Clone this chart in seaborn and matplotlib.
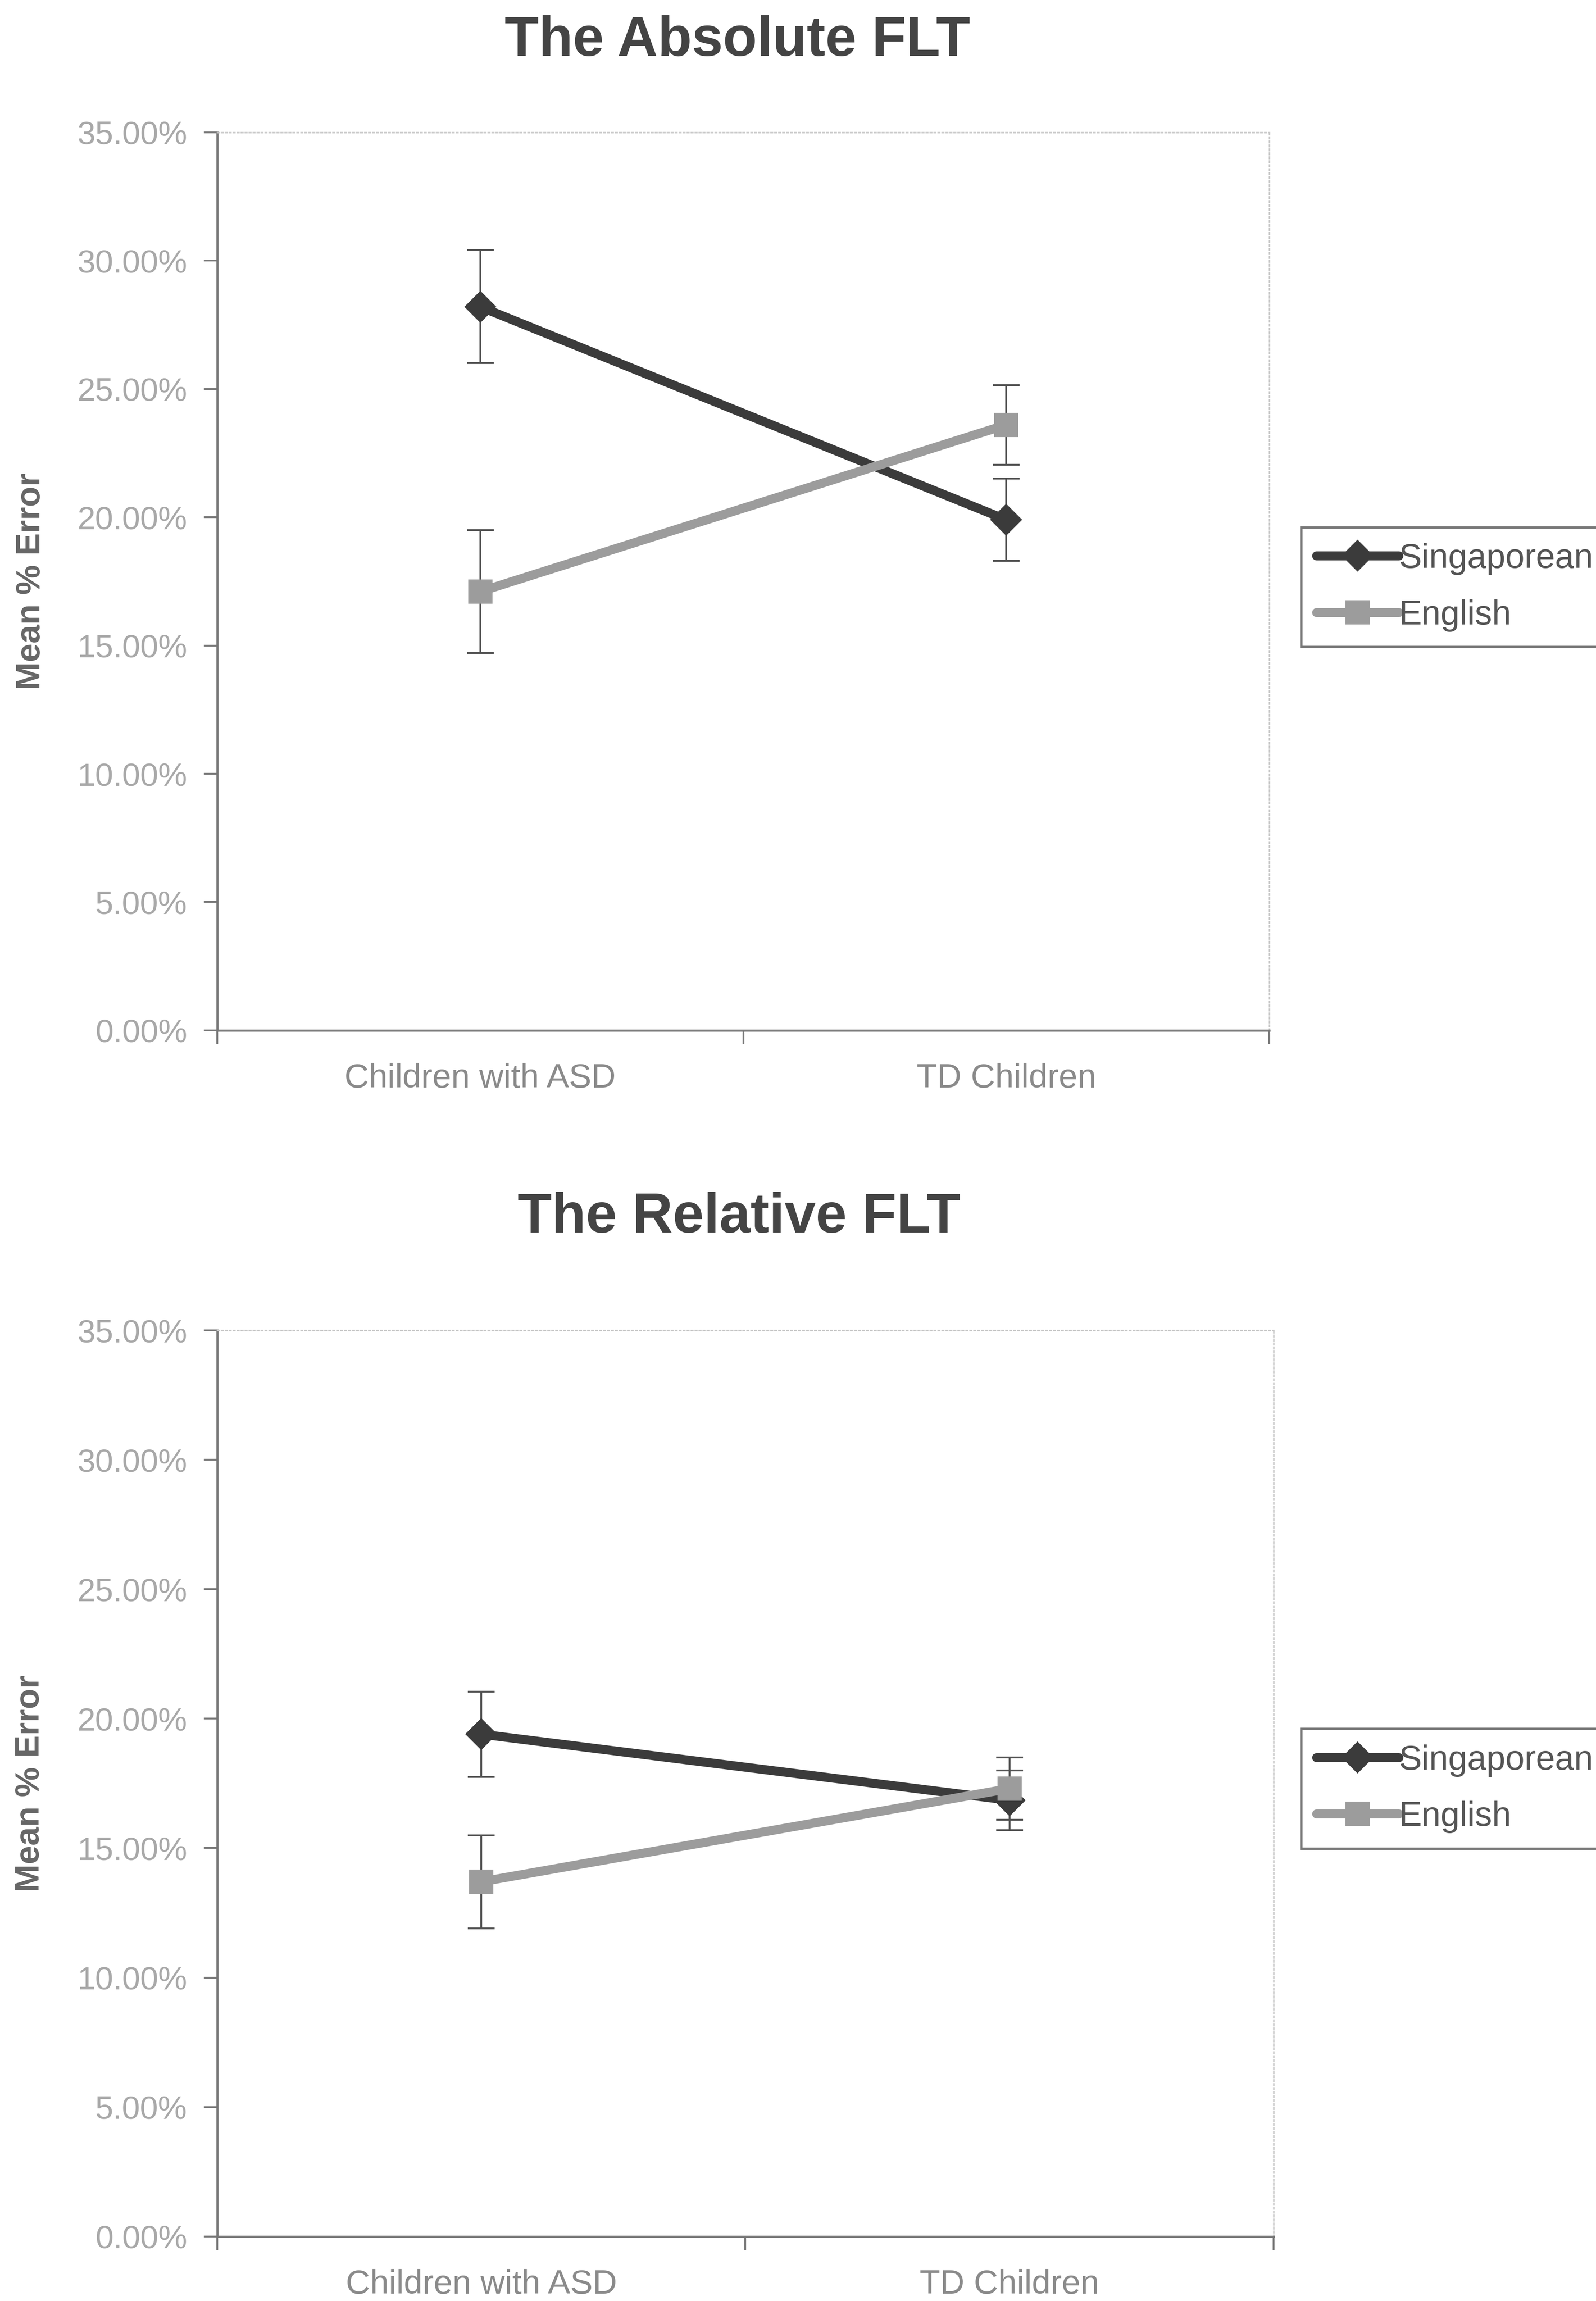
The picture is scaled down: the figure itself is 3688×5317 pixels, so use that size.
import matplotlib
matplotlib.use("Agg")
import matplotlib.pyplot as plt
import seaborn as sns
import pandas as pd
from matplotlib.ticker import PercentFormatter, FixedLocator

groups = ["Children with ASD", "TD Children"]
series_names = ["Singaporean", "English"]

abs_singaporean = [28.2, 19.9]
abs_singaporean_err = [2.2, 1.6]
abs_english = [17.1, 23.6]
abs_english_err = [2.4, 1.55]

rel_singaporean = [19.4, 16.85]
rel_singaporean_err = [1.65, 1.15]
rel_english = [13.7, 17.3]
rel_english_err = [1.8, 1.2]

titles = ["The Absolute FLT", "The Relative FLT"]

colors = {"Singaporean": "#3b3b3b", "English": "#9c9c9c"}
markers = {"Singaporean": "D", "English": "s"}
msizes = {"Singaporean": 38, "English": 40}

sns.set_style("white")
plt.rcParams["font.family"] = ["Liberation Sans", "DejaVu Sans"]


def make_df(sing, eng, sing_err, eng_err):
    rows = []
    for name, vals, errs in [("Singaporean", sing, sing_err), ("English", eng, eng_err)]:
        for g, v, e in zip(groups, vals, errs):
            rows.append({"group": g, "series": name, "value": v, "err": e})
    return pd.DataFrame(rows)


def draw_panel(ax, df):
    for name in series_names:
        d = df[df["series"] == name]
        ax.errorbar(d["group"], d["value"], yerr=d["err"], fmt="none",
                    ecolor="#505050", elinewidth=3, capsize=22, capthick=3, zorder=2)
        sns.lineplot(data=d, x="group", y="value", ax=ax, color=colors[name],
                     marker=markers[name], markersize=msizes[name],
                     markeredgecolor=colors[name], markeredgewidth=0,
                     linewidth=15, label=name, zorder=3, legend=False)
    ax.set_xlim(-0.5, 1.5)
    ax.set_ylim(0, 35)
    ax.yaxis.set_major_locator(FixedLocator([0, 5, 10, 15, 20, 25, 30, 35]))
    ax.yaxis.set_major_formatter(PercentFormatter(decimals=2))
    ax.set_xlabel("")
    ax.set_ylabel("Mean % Error", fontsize=56, fontweight="bold", color="#666666")
    ax.yaxis.set_label_coords(-0.162, 0.5)
    ax.tick_params(axis="y", labelsize=54, labelcolor="#a8a8a8", length=22, width=3,
                   color="#777777", direction="out", pad=28, left=True)
    ax.tick_params(axis="x", which="major", labelsize=56, labelcolor="#8a8a8a", length=0, pad=54)
    ax.set_xticks([-0.5, 0.5, 1.5], minor=True)
    ax.tick_params(axis="x", which="minor", length=22, width=3, color="#777777",
                   direction="out", bottom=True)
    for s in ["left", "bottom"]:
        ax.spines[s].set_color("#777777")
        ax.spines[s].set_linewidth(3.5)
    for s in ["top", "right"]:
        ax.spines[s].set_color("#c8c8c8")
        ax.spines[s].set_linewidth(2.5)
        ax.spines[s].set_linestyle(":")


fig = plt.figure(figsize=(36.88, 53.17), dpi=100)
fig.patch.set_facecolor("white")

ax1 = fig.add_axes([0.1361, 0.5522, 0.6592, 0.3903])
ax2 = fig.add_axes([0.1361, 0.0281, 0.6619, 0.3937])

df_abs = make_df(abs_singaporean, abs_english, abs_singaporean_err, abs_english_err)
df_rel = make_df(rel_singaporean, rel_english, rel_singaporean_err, rel_english_err)

draw_panel(ax1, df_abs)
draw_panel(ax2, df_rel)

fig.text(0.462, 0.982, titles[0], ha="center", va="center", fontsize=93,
         fontweight="bold", color="#444444")
fig.text(0.463, 0.4707, titles[1], ha="center", va="center", fontsize=93,
         fontweight="bold", color="#444444")

for ax, yc in [(ax1, 0.7448), (ax2, 0.2226)]:
    h, l = ax.get_legend_handles_labels()
    leg = fig.legend(h, l, loc="center left", bbox_to_anchor=(0.8153, yc),
                     fontsize=57, frameon=True, fancybox=False, handlelength=2.4,
                     handletextpad=0.0, borderpad=0.45, labelspacing=0.7,
                     borderaxespad=0)
    leg.get_frame().set_edgecolor("#555555")
    leg.get_frame().set_linewidth(4)
    for t in leg.get_texts():
        t.set_color("#555555")

fig.savefig("out.png", dpi=100, facecolor="white")
